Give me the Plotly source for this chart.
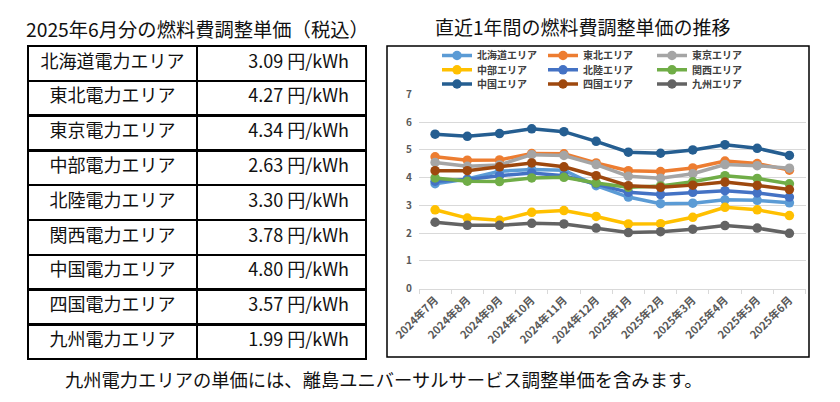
import plotly.graph_objects as go

months = ["2024年7月", "2024年8月", "2024年9月", "2024年10月", "2024年11月", "2024年12月",
          "2025年1月", "2025年2月", "2025年3月", "2025年4月", "2025年5月", "2025年6月"]

hokkaido = [3.78, 3.95, 4.23, 4.29, 4.27, 3.71, 3.30, 3.06, 3.08, 3.20, 3.18, 3.09]
tohoku   = [4.75, 4.63, 4.64, 4.87, 4.86, 4.53, 4.25, 4.22, 4.35, 4.60, 4.51, 4.27]
tokyo    = [4.55, 4.41, 4.46, 4.83, 4.80, 4.47, 4.05, 3.98, 4.14, 4.47, 4.43, 4.34]
chubu    = [2.84, 2.54, 2.46, 2.75, 2.81, 2.60, 2.33, 2.34, 2.57, 2.93, 2.84, 2.63]
hokuriku = [3.87, 3.93, 4.07, 4.17, 4.07, 3.78, 3.47, 3.39, 3.47, 3.53, 3.45, 3.30]
kansai   = [3.99, 3.87, 3.86, 3.99, 4.01, 3.81, 3.65, 3.70, 3.85, 4.07, 3.97, 3.78]
chugoku  = [5.57, 5.49, 5.59, 5.76, 5.66, 5.31, 4.92, 4.88, 5.00, 5.19, 5.06, 4.80]
shikoku  = [4.25, 4.25, 4.39, 4.53, 4.39, 4.07, 3.71, 3.65, 3.73, 3.84, 3.72, 3.57]
kyushu   = [2.39, 2.28, 2.28, 2.35, 2.33, 2.18, 2.02, 2.05, 2.14, 2.27, 2.18, 1.99]

series_names = ["北海道エリア", "東北エリア", "東京エリア", "中部エリア", "北陸エリア",
                "関西エリア", "中国エリア", "四国エリア", "九州エリア"]
series_values = [hokkaido, tohoku, tokyo, chubu, hokuriku, kansai, chugoku, shikoku, kyushu]
series_colors = ["#5B9BD5", "#ED7D31", "#A5A5A5", "#FFC000", "#4472C4",
                 "#70AD47", "#255E91", "#9E480E", "#636363"]

table_areas = ["北海道電力エリア", "東北電力エリア", "東京電力エリア", "中部電力エリア", "北陸電力エリア",
               "関西電力エリア", "中国電力エリア", "四国電力エリア", "九州電力エリア"]
table_prices = [3.09, 4.27, 4.34, 2.63, 3.30, 3.78, 4.80, 3.57, 1.99]

FONT = "Noto Sans CJK JP"
# the page body has an 8px margin, so the figure is drawn 8px in from the window corner
OFF = 8
W, H = 840 - OFF, 402 - OFF


def fx(px):
    return (px - OFF) / W


def fy(py):
    return 1 - (py - OFF) / H


fig = go.Figure()

legend_layouts = {}
legend_col_x = [437, 543, 652]      # px, left of each legend column
legend_row_y = [55.5, 69.8, 84]     # px, centre of each legend row
for i, (name, vals, col) in enumerate(zip(series_names, series_values, series_colors)):
    lid = "legend" if i == 0 else f"legend{i + 1}"
    fig.add_trace(go.Scatter(
        x=months, y=vals, name=name, mode="lines+markers",
        line=dict(color=col, width=3.5),
        marker=dict(color=col, size=9.5),
        legend=lid,
    ))
    legend_layouts[lid] = dict(
        x=fx(legend_col_x[i % 3]), y=fy(legend_row_y[i // 3]),
        xanchor="left", yanchor="middle", orientation="v",
        font=dict(family=FONT, size=10, color="#404040", weight="bold"),
        bgcolor="rgba(0,0,0,0)", itemwidth=30,
    )

# table (first row placed in the header with identical styling)
price_text = [f"{p:.2f} 円/kWh\u2002" for p in table_prices]
cell_font = dict(family=FONT, size=18, color="#111111")
cell_line = dict(color="black", width=2.5)
fig.add_trace(go.Table(
    domain=dict(x=[fx(28), fx(366)], y=[fy(362), fy(46)]),
    columnwidth=[169, 169],
    header=dict(values=[table_areas[0], price_text[0]], align=["center", "right"],
                height=34.8, font=cell_font, line=cell_line, fill=dict(color="white")),
    cells=dict(
        values=[table_areas[1:], price_text[1:]],
        align=["center", "right"],
        height=34.8,
        font=cell_font, line=cell_line, fill=dict(color="white"),
    ),
))

fig.update_layout(
    width=W, height=H,
    margin=dict(l=0, r=0, t=0, b=0, autoexpand=False),
    paper_bgcolor="white", plot_bgcolor="white",
    font=dict(family=FONT),
    showlegend=True,
    xaxis=dict(
        domain=[fx(419), fx(805.5)],
        range=[-0.5, 11.5],
        tickangle=-45,
        tickfont=dict(family=FONT, size=11, color="#595959", weight="bold"),
        showgrid=False,
        showline=True, linecolor="#D9D9D9", linewidth=1,
        ticks="outside", tickson="boundaries", ticklen=4, tickcolor="#D9D9D9",
        fixedrange=True,
    ),
    yaxis=dict(
        domain=[fy(288.5), fy(94.5)],
        range=[0, 7], dtick=1,
        tickfont=dict(family=FONT, size=10, color="#595959", weight="bold"),
        showgrid=True, gridcolor="#D9D9D9", gridwidth=1,
        zeroline=False, showline=False, ticks="",
        ticklabelstandoff=6,
        fixedrange=True,
    ),
    shapes=[dict(type="rect", xref="paper", yref="paper",
                 x0=fx(387), x1=fx(809), y0=fy(357), y1=fy(46),
                 line=dict(color="black", width=1.5), layer="below")],
    annotations=[
        dict(text="2025年6月分の燃料費調整単価（税込）", xref="paper", yref="paper",
             x=fx(197), y=fy(29), xanchor="center", yanchor="middle", showarrow=False,
             font=dict(family=FONT, size=19.3, color="#111111")),
        dict(text="直近1年間の燃料費調整単価の推移", xref="paper", yref="paper",
             x=fx(583), y=fy(26), xanchor="center", yanchor="middle", showarrow=False,
             font=dict(family=FONT, size=19, color="#111111")),
        dict(text="九州電力エリアの単価には、離島ユニバーサルサービス調整単価を含みます。",
             xref="paper", yref="paper",
             x=fx(383.5), y=fy(379), xanchor="center", yanchor="middle", showarrow=False,
             font=dict(family=FONT, size=18.3, color="#111111")),
    ],
    **legend_layouts,
)

fig.write_html("out.html")
